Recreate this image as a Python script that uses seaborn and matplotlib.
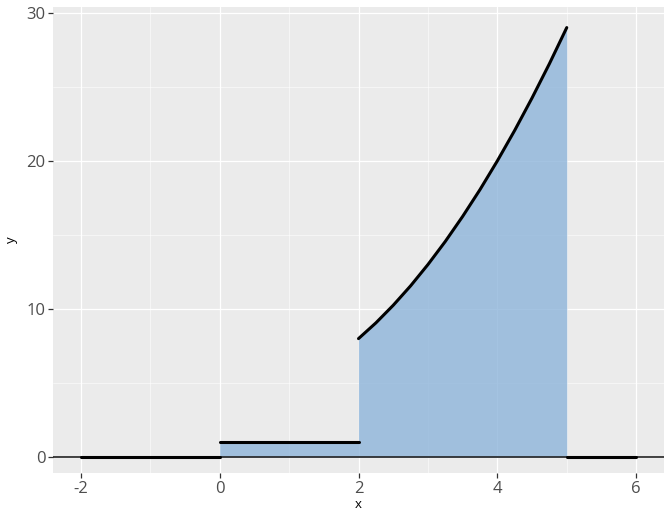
import numpy as np
import pandas as pd
import matplotlib
matplotlib.use("Agg")
import matplotlib.pyplot as plt
import seaborn as sns

# piecewise values
x_left = [-2, 0]
y_left = [0, 0]
x_mid = [0, 2]
y_mid = [1, 1]
x_curve = [2.0, 2.25, 2.5, 2.75, 3.0, 3.25, 3.5, 3.75, 4.0, 4.25, 4.5, 4.75, 5.0]
y_curve = [8.0, 9.06, 10.25, 11.56, 13.0, 14.56, 16.25, 18.06, 20.0, 22.06, 24.25, 26.56, 29.0]
x_right = [5, 6]
y_right = [0, 0]

x_ticks = [-2, 0, 2, 4, 6]
y_ticks = [0, 10, 20, 30]

sns.set_theme(style="darkgrid", rc={
    "axes.facecolor": "#EBEBEB",
    "grid.color": "white",
    "axes.edgecolor": "#EBEBEB",
    "axes.unicode_minus": False,
})
plt.rcParams["font.family"] = ["Open Sans", "DejaVu Sans"]

fig, ax = plt.subplots(figsize=(6.72, 5.28), dpi=100)
ax.set_axisbelow(True)

fill_x = x_mid + x_curve
fill_y = y_mid + y_curve
ax.fill_between(fill_x, 0, fill_y, color="#8db4da", alpha=0.8, linewidth=0, zorder=2)

ax.axhline(0, color="#222222", linewidth=1.2, zorder=3)

for xs, ys in [(x_left, y_left), (x_mid, y_mid), (x_curve, y_curve), (x_right, y_right)]:
    df = pd.DataFrame({"x": xs, "y": ys})
    sns.lineplot(data=df, x="x", y="y", color="black", linewidth=2.2, ax=ax, zorder=4)

ax.set_xlim(-2.4, 6.4)
ax.set_ylim(-1.08, 30.4)
ax.set_xticks(x_ticks)
ax.set_yticks(y_ticks)
ax.set_xticks([-1, 1, 3, 5], minor=True)
ax.set_yticks([5, 15, 25], minor=True)
ax.grid(which="major", color="white", linewidth=0.9)
ax.grid(which="minor", color="white", linewidth=0.45, alpha=0.8)
ax.tick_params(which="major", bottom=True, left=True, length=3.5, width=0.9, color="#333333",
               labelsize=12, labelcolor="#4D4D4D", pad=2)
ax.tick_params(which="minor", length=0)
ax.set_xlabel("x", fontsize=9.5, color="black", labelpad=1)
ax.set_ylabel("y", fontsize=9.5, color="black", labelpad=6)
for s in ax.spines.values():
    s.set_visible(False)

fig.subplots_adjust(left=0.079, right=0.988, top=0.987, bottom=0.104)
fig.savefig("out.png", dpi=100)
